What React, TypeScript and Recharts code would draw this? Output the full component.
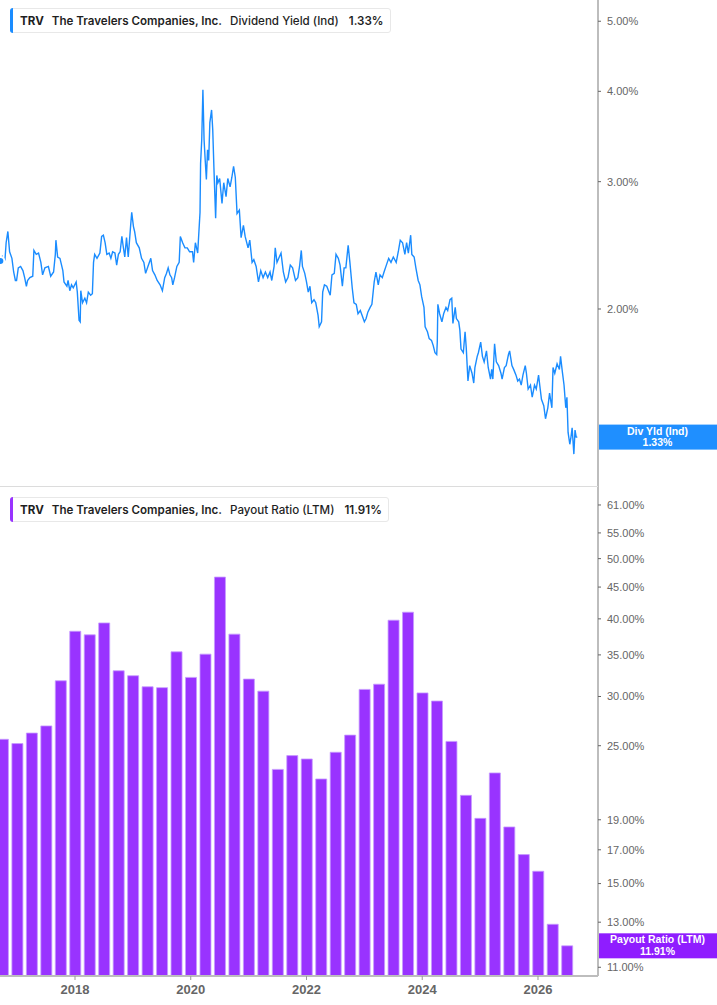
import React from 'react';
import { LineChart, Line, BarChart, Bar, XAxis, YAxis, ReferenceLine } from 'recharts';

// ---- data ----
const yieldDates = [
  2016.71, 2016.74, 2016.76, 2016.79, 2016.81, 2016.84, 2016.87, 2016.91, 2016.94, 2016.97,
  2016.99, 2017.02, 2017.06, 2017.10, 2017.13, 2017.16, 2017.18, 2017.22, 2017.27, 2017.29,
  2017.33, 2017.37, 2017.41, 2017.44, 2017.48, 2017.54, 2017.58, 2017.63, 2017.66, 2017.67,
  2017.70, 2017.74, 2017.79, 2017.81, 2017.86, 2017.88, 2017.91, 2017.94, 2017.97, 2018.02,
  2018.04, 2018.07, 2018.09, 2018.10, 2018.13, 2018.17, 2018.20, 2018.23, 2018.27, 2018.30,
  2018.32, 2018.34, 2018.38, 2018.43, 2018.46, 2018.49, 2018.52, 2018.55, 2018.59, 2018.62,
  2018.65, 2018.69, 2018.72, 2018.75, 2018.78, 2018.81, 2018.83, 2018.86, 2018.89, 2018.92,
  2018.96, 2018.98, 2019.01, 2019.03, 2019.06, 2019.11, 2019.15, 2019.19, 2019.22, 2019.26,
  2019.31, 2019.34, 2019.38, 2019.42, 2019.47, 2019.51, 2019.55, 2019.58, 2019.61, 2019.64,
  2019.67, 2019.69, 2019.72, 2019.76, 2019.80, 2019.82, 2019.86, 2019.90, 2019.94, 2019.98,
  2020.03, 2020.05, 2020.08, 2020.12, 2020.16, 2020.17, 2020.19, 2020.21, 2020.23, 2020.25,
  2020.27, 2020.29, 2020.31, 2020.33, 2020.36, 2020.38, 2020.40, 2020.43, 2020.45, 2020.47,
  2020.50, 2020.54, 2020.57, 2020.61, 2020.64, 2020.68, 2020.71, 2020.74, 2020.77, 2020.80,
  2020.84, 2020.87, 2020.91, 2020.94, 2020.99, 2021.02, 2021.06, 2021.09, 2021.13, 2021.17,
  2021.21, 2021.25, 2021.29, 2021.33, 2021.37, 2021.40, 2021.44, 2021.46, 2021.49, 2021.53,
  2021.56, 2021.60, 2021.64, 2021.68, 2021.72, 2021.76, 2021.81, 2021.85, 2021.88, 2021.91,
  2021.93, 2021.97, 2022.00, 2022.03, 2022.06, 2022.09, 2022.13, 2022.16, 2022.20, 2022.22,
  2022.26, 2022.28, 2022.31, 2022.35, 2022.38, 2022.41, 2022.44, 2022.48, 2022.51, 2022.55,
  2022.58, 2022.62, 2022.65, 2022.68, 2022.72, 2022.75, 2022.79, 2022.82, 2022.86, 2022.89,
  2022.93, 2022.96, 2023.00, 2023.03, 2023.06, 2023.10, 2023.13, 2023.17, 2023.20, 2023.24,
  2023.27, 2023.31, 2023.34, 2023.38, 2023.42, 2023.46, 2023.50, 2023.55, 2023.59, 2023.62,
  2023.66, 2023.70, 2023.73, 2023.76, 2023.80, 2023.82, 2023.86, 2023.89, 2023.93, 2023.96,
  2023.99, 2024.03, 2024.05, 2024.09, 2024.12, 2024.16, 2024.19, 2024.22, 2024.25, 2024.26,
  2024.27, 2024.30, 2024.34, 2024.37, 2024.41, 2024.44, 2024.48, 2024.51, 2024.53, 2024.57,
  2024.59, 2024.63, 2024.65, 2024.67, 2024.71, 2024.74, 2024.76, 2024.79, 2024.82, 2024.86,
  2024.89, 2024.91, 2024.95, 2024.97, 2025.01, 2025.04, 2025.07, 2025.11, 2025.14, 2025.18,
  2025.20, 2025.22, 2025.25, 2025.28, 2025.32, 2025.36, 2025.38, 2025.42, 2025.45, 2025.49,
  2025.51, 2025.55, 2025.58, 2025.62, 2025.65, 2025.68, 2025.71, 2025.74, 2025.78, 2025.80,
  2025.83, 2025.87, 2025.90, 2025.94, 2025.97, 2026.01, 2026.03, 2026.06, 2026.10, 2026.13,
  2026.17, 2026.20, 2026.24, 2026.26, 2026.29, 2026.33, 2026.37, 2026.39, 2026.42, 2026.45,
  2026.48, 2026.50, 2026.52, 2026.55, 2026.57, 2026.59, 2026.62, 2026.64, 2026.66, 2026.68,
];

const yieldValues = [
  2.33, 2.36, 2.32, 2.34, 2.47, 2.56, 2.40, 2.35, 2.25, 2.19,
  2.19, 2.28, 2.29, 2.26, 2.21, 2.15, 2.19, 2.21, 2.22, 2.41,
  2.38, 2.39, 2.32, 2.23, 2.28, 2.29, 2.22, 2.25, 2.38, 2.49,
  2.36, 2.35, 2.26, 2.18, 2.15, 2.19, 2.12, 2.16, 2.14, 2.18,
  2.11, 1.93, 1.92, 2.12, 2.04, 2.07, 2.04, 2.11, 2.09, 2.10,
  2.32, 2.38, 2.35, 2.39, 2.52, 2.53, 2.47, 2.38, 2.39, 2.35,
  2.40, 2.39, 2.30, 2.38, 2.40, 2.52, 2.45, 2.36, 2.51, 2.36,
  2.60, 2.72, 2.60, 2.56, 2.47, 2.43, 2.35, 2.32, 2.24, 2.29,
  2.35, 2.26, 2.23, 2.19, 2.16, 2.12, 2.21, 2.24, 2.28, 2.23,
  2.21, 2.16, 2.21, 2.29, 2.32, 2.52, 2.47, 2.43, 2.43, 2.40,
  2.40, 2.32, 2.47, 2.39, 2.72, 3.18, 3.43, 4.02, 3.43, 3.21,
  3.02, 3.32, 3.21, 3.62, 3.77, 3.54, 3.14, 2.67, 3.06, 2.99,
  3.03, 2.80, 2.99, 2.86, 3.03, 2.95, 3.04, 3.15, 3.04, 2.71,
  2.74, 2.51, 2.61, 2.52, 2.43, 2.49, 2.32, 2.34, 2.29, 2.18,
  2.26, 2.21, 2.25, 2.21, 2.25, 2.19, 2.29, 2.43, 2.32, 2.36,
  2.39, 2.25, 2.18, 2.21, 2.30, 2.28, 2.19, 2.21, 2.29, 2.41,
  2.29, 2.24, 2.18, 2.11, 2.15, 2.04, 2.06, 2.04, 1.96, 1.89,
  1.92, 2.11, 2.16, 2.15, 2.12, 2.09, 2.23, 2.24, 2.38, 2.35,
  2.30, 2.15, 2.28, 2.28, 2.45, 2.32, 2.14, 2.04, 2.03, 1.97,
  1.99, 1.96, 1.92, 1.94, 1.98, 2.01, 2.03, 2.18, 2.25, 2.16,
  2.23, 2.21, 2.25, 2.30, 2.35, 2.32, 2.36, 2.32, 2.41, 2.49,
  2.47, 2.38, 2.47, 2.39, 2.53, 2.38, 2.36, 2.28, 2.19, 2.16,
  2.08, 2.01, 1.89, 1.86, 1.82, 1.81, 1.78, 1.74, 1.73, 1.80,
  2.03, 1.97, 1.92, 1.97, 2.01, 1.99, 2.06, 2.07, 1.91, 2.01,
  1.94, 1.92, 1.87, 1.76, 1.74, 1.86, 1.77, 1.59, 1.67, 1.63,
  1.58, 1.66, 1.72, 1.74, 1.80, 1.72, 1.69, 1.75, 1.66, 1.60,
  1.65, 1.60, 1.79, 1.69, 1.67, 1.63, 1.60, 1.66, 1.67, 1.73,
  1.75, 1.67, 1.65, 1.62, 1.59, 1.60, 1.57, 1.62, 1.67, 1.63,
  1.55, 1.57, 1.51, 1.57, 1.55, 1.62, 1.57, 1.50, 1.47, 1.41,
  1.46, 1.53, 1.46, 1.66, 1.63, 1.68, 1.65, 1.72, 1.64, 1.57,
  1.46, 1.51, 1.35, 1.30, 1.33, 1.37, 1.26, 1.36, 1.33, 1.33,
];

const payoutDates = [
  2016.75, 2017.0, 2017.25, 2017.5, 2017.75, 2018.0, 2018.25, 2018.5, 2018.75, 2019.0,
  2019.25, 2019.5, 2019.75, 2020.0, 2020.25, 2020.5, 2020.75, 2021.0, 2021.25, 2021.5,
  2021.75, 2022.0, 2022.25, 2022.5, 2022.75, 2023.0, 2023.25, 2023.5, 2023.75, 2024.0,
  2024.25, 2024.5, 2024.75, 2025.0, 2025.25, 2025.5, 2025.75, 2026.0, 2026.25, 2026.5,
];

const payoutValues = [
  25.6, 25.2, 26.2, 26.9, 31.8, 38.2, 37.7, 39.4, 33.0, 32.4,
  31.1, 31.0, 35.4, 32.2, 35.1, 46.7, 37.8, 32.0, 30.6, 22.9,
  24.1, 23.8, 22.1, 24.4, 26.0, 30.8, 31.4, 39.8, 41.0, 30.4,
  29.5, 25.4, 20.8, 19.1, 22.6, 18.5, 16.7, 15.7, 12.9, 11.91,
];

const xTicks = [2018, 2020, 2022, 2024, 2026];
const yieldTicks = [2, 3, 4, 5];
const payoutTicks = [11, 13, 15, 17, 19, 25, 30, 35, 40, 45, 50, 55, 61];

const lastYield = yieldValues[yieldValues.length - 1];
const lastPayout = payoutValues[payoutValues.length - 1];

// ---- derived tables ----
const yieldData = yieldDates.map((t, i) => ({ t, v: yieldValues[i] }));
const payoutData = payoutDates.map((t, i) => ({ t, v: payoutValues[i] }));

// ---- styles ----
const X_DOMAIN: [number, number] = [2016.704, 2027.037];
const BLUE = '#1a8cff';
const PURPLE = '#9933ff';
const AXIS_W = 119;
const tickFont = { fontSize: 11, fill: '#666', fontFamily: '"Liberation Sans", Arial, sans-serif' };
const pct = (v: number) => `${v.toFixed(2)}%`;

const ValueTag = (props: any) => {
  const { viewBox, title, value, color } = props;
  if (!viewBox) return null;
  const left = viewBox.x + viewBox.width;
  const y = viewBox.y;
  return (
    <g>
      <rect x={left} y={y - 12.5} width={AXIS_W} height={25} fill={color} />
      <text x={left + AXIS_W / 2} y={y - 2.5} textAnchor="middle" fill="#fff" fontSize={10.5} fontWeight={700}
        fontFamily='"Liberation Sans", Arial, sans-serif'>{title}</text>
      <text x={left + AXIS_W / 2} y={y + 9} textAnchor="middle" fill="#fff" fontSize={10.5} fontWeight={700}
        fontFamily='"Liberation Sans", Arial, sans-serif'>{value}</text>
    </g>
  );
};

const Legend = ({ top, color, metric, value }: { top: number; color: string; metric: string; value: string }) => (
  <div style={{
    position: 'absolute', left: 10, top, height: 25, boxSizing: 'border-box',
    border: '1px solid #e8e8e8', borderRadius: 3, background: '#fff', display: 'flex', alignItems: 'center',
    paddingLeft: 9, paddingRight: 6, fontFamily: 'Inter, "Noto Sans", sans-serif', fontSize: 11.6, color: '#1f1f1f',
    whiteSpace: 'nowrap',
  }}>
    <div style={{ position: 'absolute', left: -1, top: -1, bottom: -1, width: 3, background: color, borderRadius: '3px 0 0 3px' }} />
    <span style={{ fontWeight: 700, marginRight: 8 }}>TRV</span>
    <span style={{ fontWeight: 600, marginRight: 8 }}>The Travelers Companies, Inc.</span>
    <span style={{ fontWeight: 500, marginRight: 10 }}>{metric}</span>
    <span style={{ fontWeight: 600 }}>{value}</span>
  </div>
);

export default function App() {
  return (
    <div style={{ position: 'relative', width: 717, height: 1005, background: '#fff', overflow: 'hidden' }}>
      <style>{`body{margin:0;}`}</style>
      <LineChart width={717} height={487} data={yieldData} margin={{ top: 0, right: 0, bottom: 0, left: 0 }}>
        <XAxis dataKey="t" type="number" domain={X_DOMAIN} allowDataOverflow hide ticks={xTicks} />
        <YAxis
          orientation="right" width={AXIS_W} type="number" scale="log" domain={[1.1346, 5.35]} allowDataOverflow
          ticks={yieldTicks} tickFormatter={pct} tick={tickFont}
          axisLine={{ stroke: '#bdbdbd', strokeWidth: 2 }} tickLine={{ stroke: '#666' }} tickSize={3} tickMargin={6}
        />
        <Line dataKey="v" type="linear" stroke={BLUE} strokeWidth={1.4} dot={false} isAnimationActive={false} />
        <ReferenceLine y={lastYield} stroke="none"
          label={(p: any) => <ValueTag {...p} title="Div Yld (Ind)" value={pct(lastYield)} color="#1f8fff" />} />
      </LineChart>
      <div style={{ position: 'absolute', left: 0, top: 486, width: 598, height: 1, background: '#dcdcdc' }} />
      <BarChart width={717} height={518} data={payoutData} margin={{ top: 0, right: 0, bottom: 0, left: 0 }} barSize={11}>
        <XAxis dataKey="t" type="number" domain={X_DOMAIN} allowDataOverflow ticks={xTicks} height={29}
          tick={{ fontSize: 13, fill: '#666', fontWeight: 700, fontFamily: '"Liberation Sans", Arial, sans-serif' }}
          axisLine={{ stroke: '#bdbdbd', strokeWidth: 2 }} tickLine={{ stroke: '#999' }} tickSize={4} tickMargin={5} />
        <YAxis
          orientation="right" width={AXIS_W} type="number" scale="log" domain={[10.65, 65.2]} allowDataOverflow
          ticks={payoutTicks} tickFormatter={pct} tick={tickFont} interval={0}
          axisLine={{ stroke: '#bdbdbd', strokeWidth: 2 }} tickLine={{ stroke: '#666' }} tickSize={3} tickMargin={6}
        />
        <Bar dataKey="v" fill={PURPLE} stroke="#c79bff" strokeWidth={0.8} isAnimationActive={false} />
        <ReferenceLine y={lastPayout} stroke="none"
          label={(p: any) => <ValueTag {...p} title="Payout Ratio (LTM)" value={pct(lastPayout)} color="#8f1dff" />} />
      </BarChart>
      <Legend top={8} color={BLUE} metric="Dividend Yield (Ind)" value={pct(lastYield)} />
      <Legend top={497} color={PURPLE} metric="Payout Ratio (LTM)" value={pct(lastPayout)} />
    </div>
  );
}
